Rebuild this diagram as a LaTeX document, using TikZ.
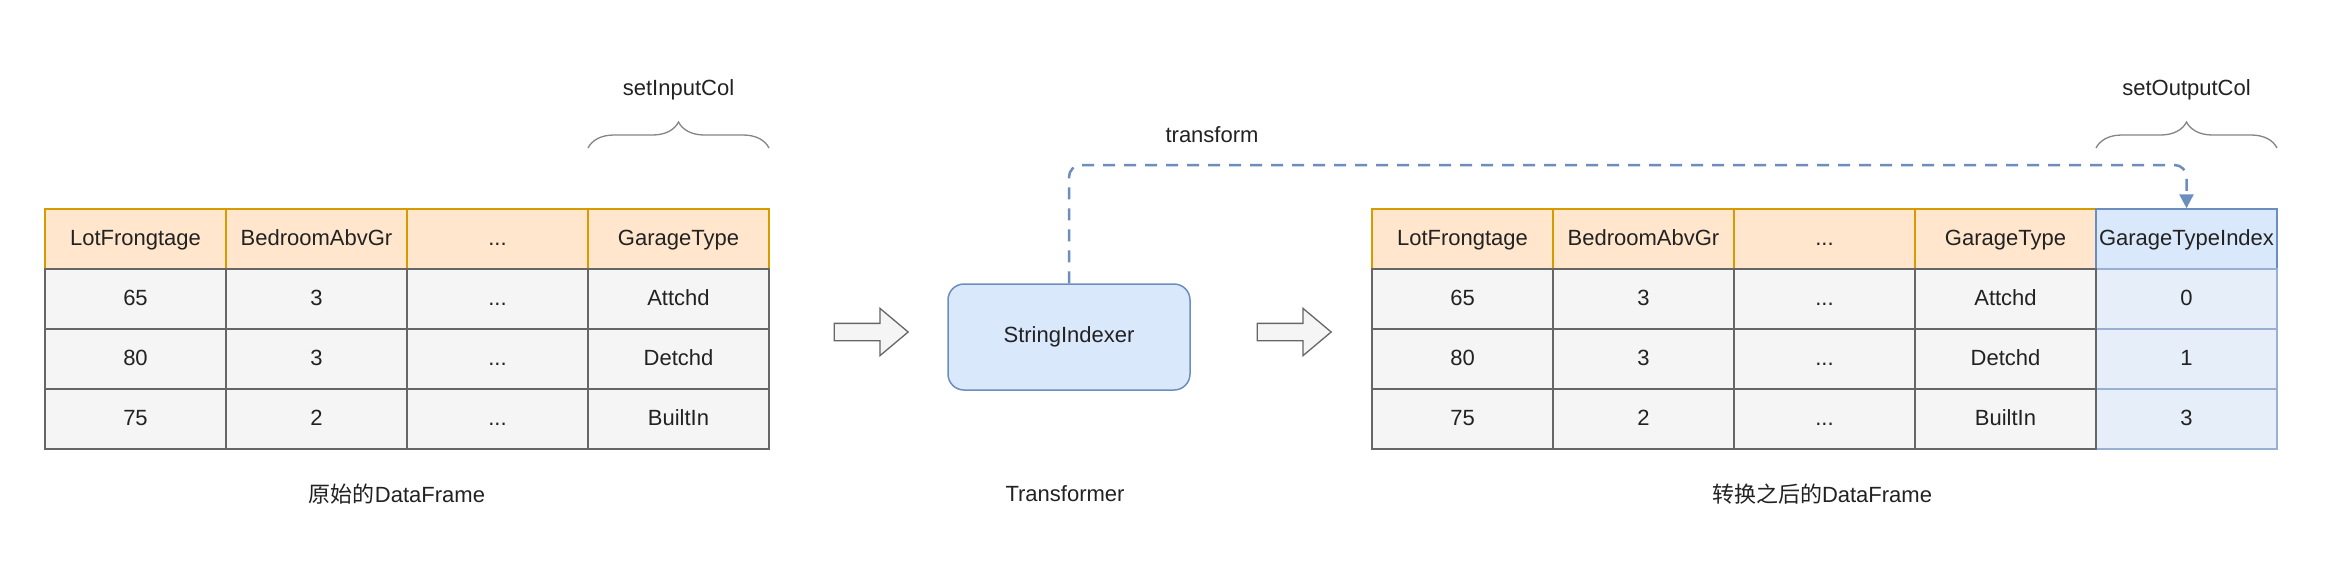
\documentclass[tikz,border=0pt]{standalone}
\usepackage{fontspec}
\setmainfont{Liberation Sans}
\newfontfamily\cjk{Noto Sans CJK SC}
\usetikzlibrary{shapes.arrows,arrows.meta,decorations.pathreplacing}
\definecolor{hdrfill}{HTML}{FFE6CC}
\definecolor{hdrline}{HTML}{D79B00}
\definecolor{cellfill}{HTML}{F5F5F5}
\definecolor{cellline}{HTML}{666666}
\definecolor{bluefill}{HTML}{DAE8FC}
\definecolor{bluelight}{HTML}{E6EEFA}
\definecolor{blueline}{HTML}{6C8EBF}
\definecolor{txt}{HTML}{222222}
\newcommand\ellip{...}
\tikzset{
  base/.style={rectangle, minimum width=181pt, minimum height=60pt, inner sep=0pt, line width=1.5pt, text=txt, font=\fontsize{22}{26}\selectfont, text height=16pt, text depth=3pt},
  hdr/.style={base, draw=hdrline, fill=hdrfill},
  cell/.style={base, draw=cellline, fill=cellfill},
  bhdr/.style={base, draw=blueline, fill=bluefill},
  bcell/.style={base, draw=blueline!70, fill=bluelight},
  lbl/.style={text=txt, font=\fontsize{22}{26}\selectfont, inner sep=0pt},
  blockarrow/.style={single arrow, draw=cellline, fill=cellfill, line width=1.3pt, minimum height=74pt, inner sep=0pt, inner ysep=8pt, single arrow head extend=15pt, single arrow tip angle=80},
  bracestyle/.style={draw=cellline!80, line width=1.3pt, decorate, decoration={brace, amplitude=26pt}},
  flow/.style={draw=blueline, line width=2.5pt, dash pattern=on 12pt off 9pt, rounded corners=12pt, -{Triangle[width=14pt,length=14pt]}}
}
\begin{document}
\begin{tikzpicture}[x=1pt,y=-1pt]
\useasboundingbox[fill=white] (0,0) rectangle (2346,566);
% ---------- left table ----------
\foreach \c/\t in {1/LotFrongtage,2/BedroomAbvGr,3/\ellip,4/GarageType}
  \node[hdr] (L-0-\c) at ({45+181*(\c-0.5)},239) {\t};
\foreach \r/\a/\b/\d in {1/65/3/Attchd,2/80/3/Detchd,3/75/2/BuiltIn} {
  \node[cell] (L-\r-1) at (135.5,{239+60*\r}) {\a};
  \node[cell] (L-\r-2) at (316.5,{239+60*\r}) {\b};
  \node[cell] (L-\r-3) at (497.5,{239+60*\r}) {\ellip};
  \node[cell] (L-\r-4) at (678.5,{239+60*\r}) {\d};
}
% ---------- right table ----------
\foreach \c/\t in {1/LotFrongtage,2/BedroomAbvGr,3/\ellip,4/GarageType}
  \node[hdr] (R-0-\c) at ({1372+181*(\c-0.5)},239) {\t};
\node[bhdr] (R-0-5) at (2186.5,239) {GarageTypeIndex};
\foreach \r/\v in {1/0,2/1,3/3}
  \node[bcell] (R-\r-5) at (2186.5,{239+60*\r}) {\v};
\foreach \r/\a/\b/\d in {1/65/3/Attchd,2/80/3/Detchd,3/75/2/BuiltIn} {
  \node[cell] (R-\r-1) at (1462.5,{239+60*\r}) {\a};
  \node[cell] (R-\r-2) at (1643.5,{239+60*\r}) {\b};
  \node[cell] (R-\r-3) at (1824.5,{239+60*\r}) {\ellip};
  \node[cell] (R-\r-4) at (2005.5,{239+60*\r}) {\d};
}
% ---------- braces and their labels ----------
\coordinate (bl1) at (588,148);
\coordinate (bl2) at (769,148);
\coordinate (br1) at (2096,148);
\coordinate (br2) at (2277,148);
\draw[bracestyle] (bl1) -- (bl2);
\draw[bracestyle] (br1) -- (br2);
\node[lbl] (inCol) at (678.5,90) {setInputCol};
\node[lbl] (outCol) at (2186.5,90) {setOutputCol};
% ---------- transformer ----------
\node[blockarrow] (arr1) at (866,332) {};
\node[blockarrow] (arr2) at (1289,332) {};
\node[rectangle, rounded corners=16pt, draw=blueline, fill=bluefill, line width=1.5pt,
      minimum width=242pt, minimum height=106pt, text=txt,
      font=\fontsize{22}{26}\selectfont] (si) at (1069,337) {StringIndexer};
\coordinate (turn) at (2186.5,165);
\draw[flow] (si.north) |- (turn) -- (R-0-5.north);
\node[lbl] (tf) at (1212,135) {transform};
% ---------- captions ----------
\node[lbl] (cap1) at (397,494) {{\cjk 原始的}DataFrame};
\node[lbl] (cap2) at (1065,494) {Transformer};
\node[lbl] (cap3) at (1822,494) {{\cjk 转换之后的}DataFrame};
\end{tikzpicture}
\end{document}
